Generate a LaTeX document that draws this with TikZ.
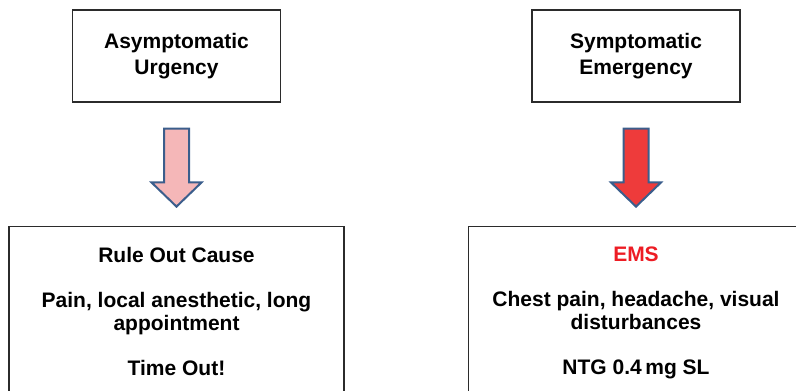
\documentclass[tikz,border=0pt]{standalone}
\usepackage{fontspec}
\setmainfont{Liberation Sans}
\usetikzlibrary{shapes.arrows,positioning,calc}
\definecolor{boxline}{HTML}{2B2B2B}
\definecolor{arrowline}{HTML}{3B5E8C}
\definecolor{softpink}{HTML}{F5B7B8}
\definecolor{alertred}{HTML}{EE3B3B}
\definecolor{emsred}{HTML}{ED1C24}

\begin{document}
\begin{tikzpicture}[x=1pt,y=1pt,
 font=\bfseries\fontsize{21}{26}\selectfont,
 headbox/.style={draw=boxline,line width=1.2pt,minimum width=208pt,
  minimum height=92pt,align=center},
 bigbox/.style={draw=boxline,line width=1.2pt,minimum width=335pt,
  minimum height=190pt,anchor=north},
 bodytext/.style={inner sep=0pt,align=center,
  font=\bfseries\fontsize{21}{23}\selectfont},
 downarrow/.style={single arrow,draw=arrowline,line width=2pt,
  minimum height=78pt,minimum width=48pt,single arrow head extend=12.5pt,
  single arrow tip angle=92,inner xsep=0pt,inner ysep=11.5pt,
  rotate=-90,anchor=tail}]
 \useasboundingbox (0,0) rectangle (796,-391);
 \clip (0,0) rectangle (796,-391);
 % top boxes
 \node[headbox] (urgency) at (176.5,-56) {Asymptomatic\\Urgency};
 \node[headbox] (emergency) at (636,-56) {Symptomatic\\Emergency};
 % bottom boxes, cut by the page edge
 \node[bigbox] (rule) at (176.5,-226) {};
 \node[bigbox] (ems) at (636,-226) {};
 \node[bodytext,below=21pt of rule.north] (ruletxt)
  {Rule Out Cause\\[22pt]Pain, local anesthetic, long\\appointment\\[22pt]Time Out!};
 \node[bodytext,below=21pt of ems.north] (emstxt)
  {\textcolor{emsred}{EMS}\\[22pt]Chest pain, headache, visual\\disturbances\\[22pt]NTG 0.4\,mg SL};
 % block arrows
 \node[downarrow,fill=softpink] (pinkarrow) at ($(urgency.south)+(0,-25)$) {};
 \node[downarrow,fill=alertred] (redarrow) at ($(emergency.south)+(0,-25)$) {};
\end{tikzpicture}
\end{document}
